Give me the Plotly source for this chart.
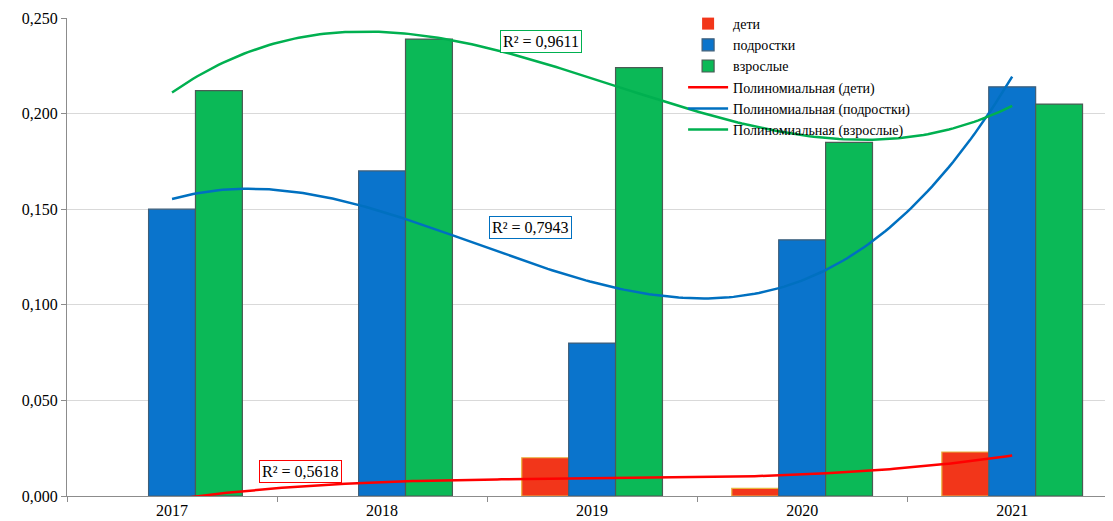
import numpy as np
import plotly.graph_objects as go

years = ['2017', '2018', '2019', '2020', '2021']
deti = [0.0, 0.0, 0.020, 0.004, 0.023]
podrostki = [0.150, 0.170, 0.080, 0.134, 0.214]
vzroslye = [0.212, 0.239, 0.224, 0.185, 0.205]
r2_labels = ['R² = 0,5618', 'R² = 0,7943', 'R² = 0,9611']

FONT = 'Liberation Serif'
xpos = np.arange(len(years))

fig = go.Figure()

bar_styles = [
    ('дети', deti, '#F2361A', '#E8B440'),
    ('подростки', podrostki, '#0A74CC', '#3F5E78'),
    ('взрослые', vzroslye, '#0BB957', '#4B5B55'),
]
for name, vals, color, edge in bar_styles:
    # no outline on empty bars
    widths = [0 if v == 0 else 1.2 for v in vals]
    fig.add_trace(go.Bar(
        x=xpos, y=vals, name=name,
        marker=dict(color=color, line=dict(color=edge, width=widths)),
    ))

# polynomial (order 3) trendlines, as Excel draws them
xs = np.linspace(0, 4, 200)
trend_styles = [
    ('Полиномиальная (дети)', deti, '#FF0000'),
    ('Полиномиальная (подростки)', podrostki, '#0070C0'),
    ('Полиномиальная (взрослые)', vzroslye, '#00B050'),
]
for name, vals, color in trend_styles:
    coef = np.polyfit(xpos, vals, 3)
    fig.add_trace(go.Scatter(
        x=xs, y=np.polyval(coef, xs), name=name, mode='lines',
        line=dict(color=color, width=2.5),
    ))

# R² labels
label_pos = [(0.61, 0.0128), (1.705, 0.1403), (1.757, 0.2376)]
label_colors = ['#FF0000', '#0070C0', '#00B050']
for text, (lx, ly), c in zip(r2_labels, label_pos, label_colors):
    fig.add_annotation(
        x=lx, y=ly, text=text, showarrow=False,
        font=dict(family=FONT, size=16, color='#000000'),
        bgcolor='white', bordercolor=c, borderwidth=1, borderpad=2,
    )

# page body adds 8px offset, so the figure is a bit smaller than the window
fig.update_layout(
    width=1105, height=513,
    margin=dict(l=59, r=0, t=5, b=25),
    paper_bgcolor='white', plot_bgcolor='white',
    separators=', ',
    barmode='group', bargap=0.33, bargroupgap=0,
    font=dict(family=FONT, size=15, color='#000000'),
    legend=dict(
        x=0.589, y=1.021, xanchor='left', yanchor='top',
        bgcolor='rgba(0,0,0,0)', font=dict(family=FONT, size=14),
        tracegroupgap=0, itemwidth=40,
    ),
    xaxis=dict(
        range=[-0.5, 4.48], tickvals=list(xpos), ticktext=years,
        ticks='', showgrid=False, zeroline=False,
        showline=True, linecolor='#8C8C8C', linewidth=1,
        minor=dict(tick0=0.5, dtick=1, ticks='outside', ticklen=5,
                   tickcolor='#8C8C8C', showgrid=False),
        tickfont=dict(family=FONT, size=16),
    ),
    yaxis=dict(
        range=[0, 0.25], dtick=0.05, tickformat='.3f',
        showgrid=True, gridcolor='#D9D9D9', gridwidth=1, zeroline=False,
        showline=True, linecolor='#8C8C8C', linewidth=1,
        ticks='outside', ticklen=5, tickcolor='#8C8C8C',
        tickfont=dict(family=FONT, size=16),
    ),
)

fig.write_html('out.html')
